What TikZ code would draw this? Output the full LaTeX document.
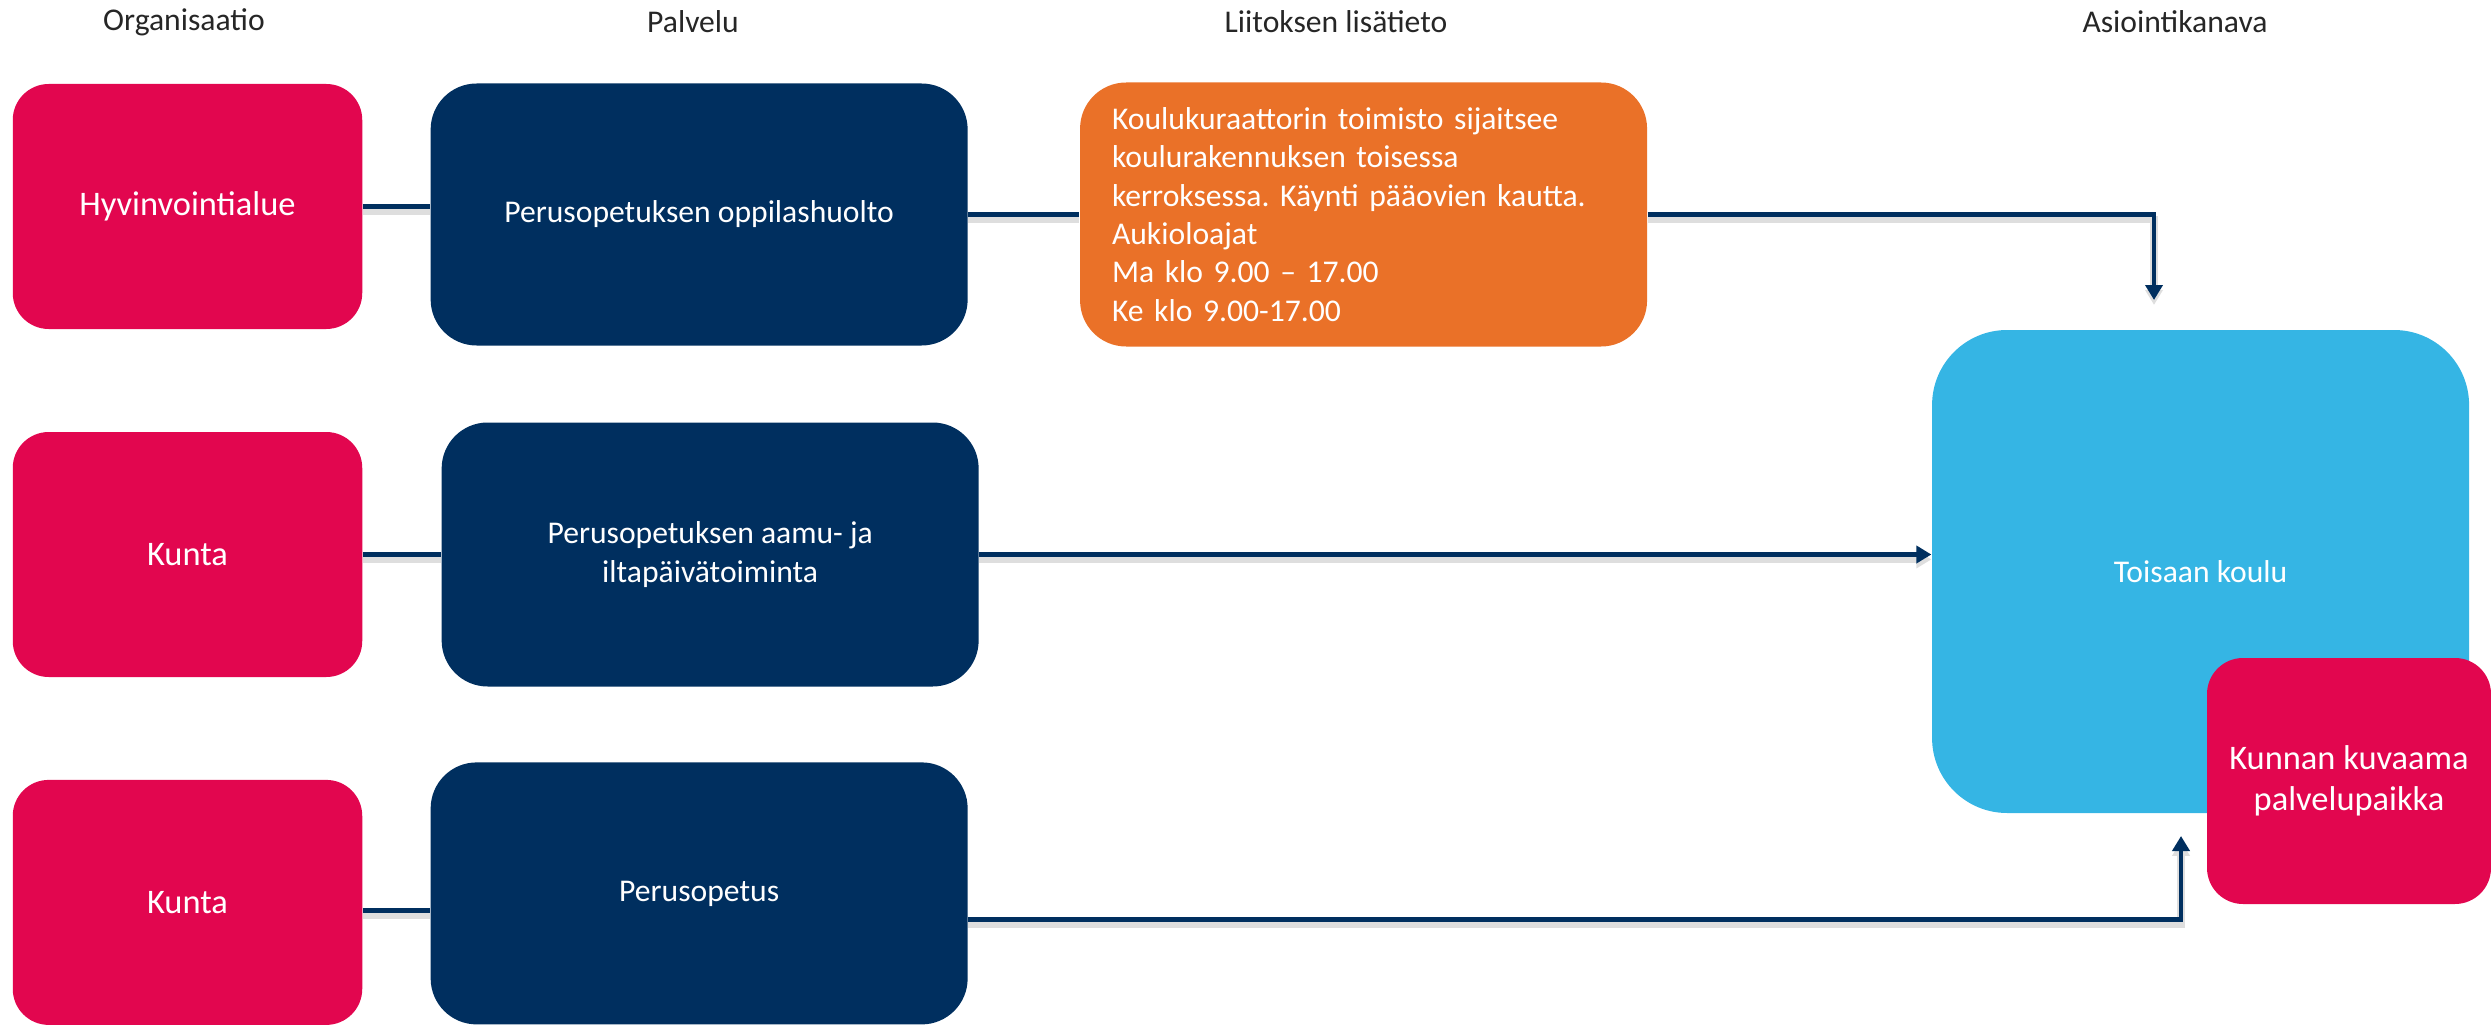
\documentclass[tikz,border=0pt]{standalone}
\usepackage{fontspec}
\setmainfont{Carlito}
\usepackage{xcolor}
\usepackage{tikz}
\usetikzlibrary{arrows.meta,positioning}

\definecolor{orgred}{RGB}{226,6,79}
\definecolor{svcnavy}{RGB}{0,47,95}
\definecolor{infoorange}{RGB}{234,113,40}
\definecolor{chanblue}{RGB}{53,181,228}
\definecolor{headgray}{RGB}{38,38,38}

\begin{document}
\frenchspacing
\begin{tikzpicture}[
  font=\fontsize{9}{10.9}\selectfont,
  org/.style={fill=orgred, rounded corners=3.6mm, minimum width=34.95mm, minimum height=24.5mm, align=center, text=white, inner sep=0pt, font=\fontsize{9.8}{11.6}\selectfont},
  svc/.style={fill=svcnavy, rounded corners=4.6mm, minimum width=53.7mm, minimum height=26.2mm, align=center, text=white, inner sep=0pt},
  info/.style={fill=infoorange, rounded corners=4.6mm, minimum width=56.7mm, minimum height=26.4mm, align=left, text=white, text width=50.3mm, inner xsep=3.2mm, inner ysep=0pt},
  chan/.style={fill=chanblue, rounded corners=7.5mm, minimum width=53.7mm, minimum height=48.3mm, align=center, text=white, inner sep=0pt},
  head/.style={text=headgray},
  link/.style={draw=svcnavy, line width=1.4pt, preaction={draw=black!13, line width=2.2pt, transform canvas={yshift=-1.4pt}}},
  arrow/.style={link, -{Triangle[width=1.7mm,length=1.5mm]}}
]
\useasboundingbox (0,0) rectangle (24.91,-10.25);

% column headings
\node[head] (hOrg) at (1.84,-0.22) {Organisaatio};
\node[head] (hSvc) at (6.93,-0.22) {Palvelu};
\node[head] (hInfo) at (13.36,-0.22) {Liitoksen lisätieto};
\node[head] (hChan) at (21.75,-0.22) {Asiointikanava};

% row 1
\node[org] (hva) at (1.875,-2.065) {Hyvinvointialue};
\node[svc, right=6.7mm of hva, yshift=-0.8mm] (oppilas) {Perusopetuksen oppilashuolto};
\node[info, right=11.1mm of oppilas] (kuraattori) {Koulukuraattorin toimisto sijaitsee\\koulurakennuksen toisessa\\kerroksessa. Käynti pääovien kautta.\\Aukioloajat\\Ma klo 9.00 – 17.00\\Ke klo 9.00-17.00};

% row 2
\node[org] (kunta1) at (1.875,-5.545) {Kunta};
\node[svc, right=7.8mm of kunta1, minimum height=26.4mm] (aamu) {Perusopetuksen aamu- ja\\iltapäivätoiminta};

% row 3
\node[org] (kunta2) at (1.875,-9.024) {Kunta};
\node[svc, right=6.7mm of kunta2, yshift=0.9mm] (perus) {Perusopetus};

% channel
\node[chan, right=95.2mm of aamu, yshift=-1.7mm] (koulu) {Toisaan koulu};
\node[org, minimum width=28.4mm, minimum height=24.6mm] (paikka) at (23.49,-7.81) {Kunnan kuvaama\\palvelupaikka};

\coordinate (tipTop) at (21.54,-3.0);
\coordinate (tipBot) at (21.81,-8.36);

\draw[link] (hva) -- (oppilas.west |- hva);
\draw[link] (kunta1) -- (aamu.west |- kunta1);
\draw[link] ([yshift=-0.8mm]kunta2.east) -- ([yshift=-0.8mm]kunta2.east -| perus.west);

\draw[link] (oppilas) -- (kuraattori);
\draw[arrow] (kuraattori.east) -| (tipTop);
\draw[arrow] (aamu.east) -- (aamu.east -| koulu.west);
\draw[arrow] ([yshift=-2.6mm]perus.east) -| (tipBot);
\end{tikzpicture}
\end{document}
